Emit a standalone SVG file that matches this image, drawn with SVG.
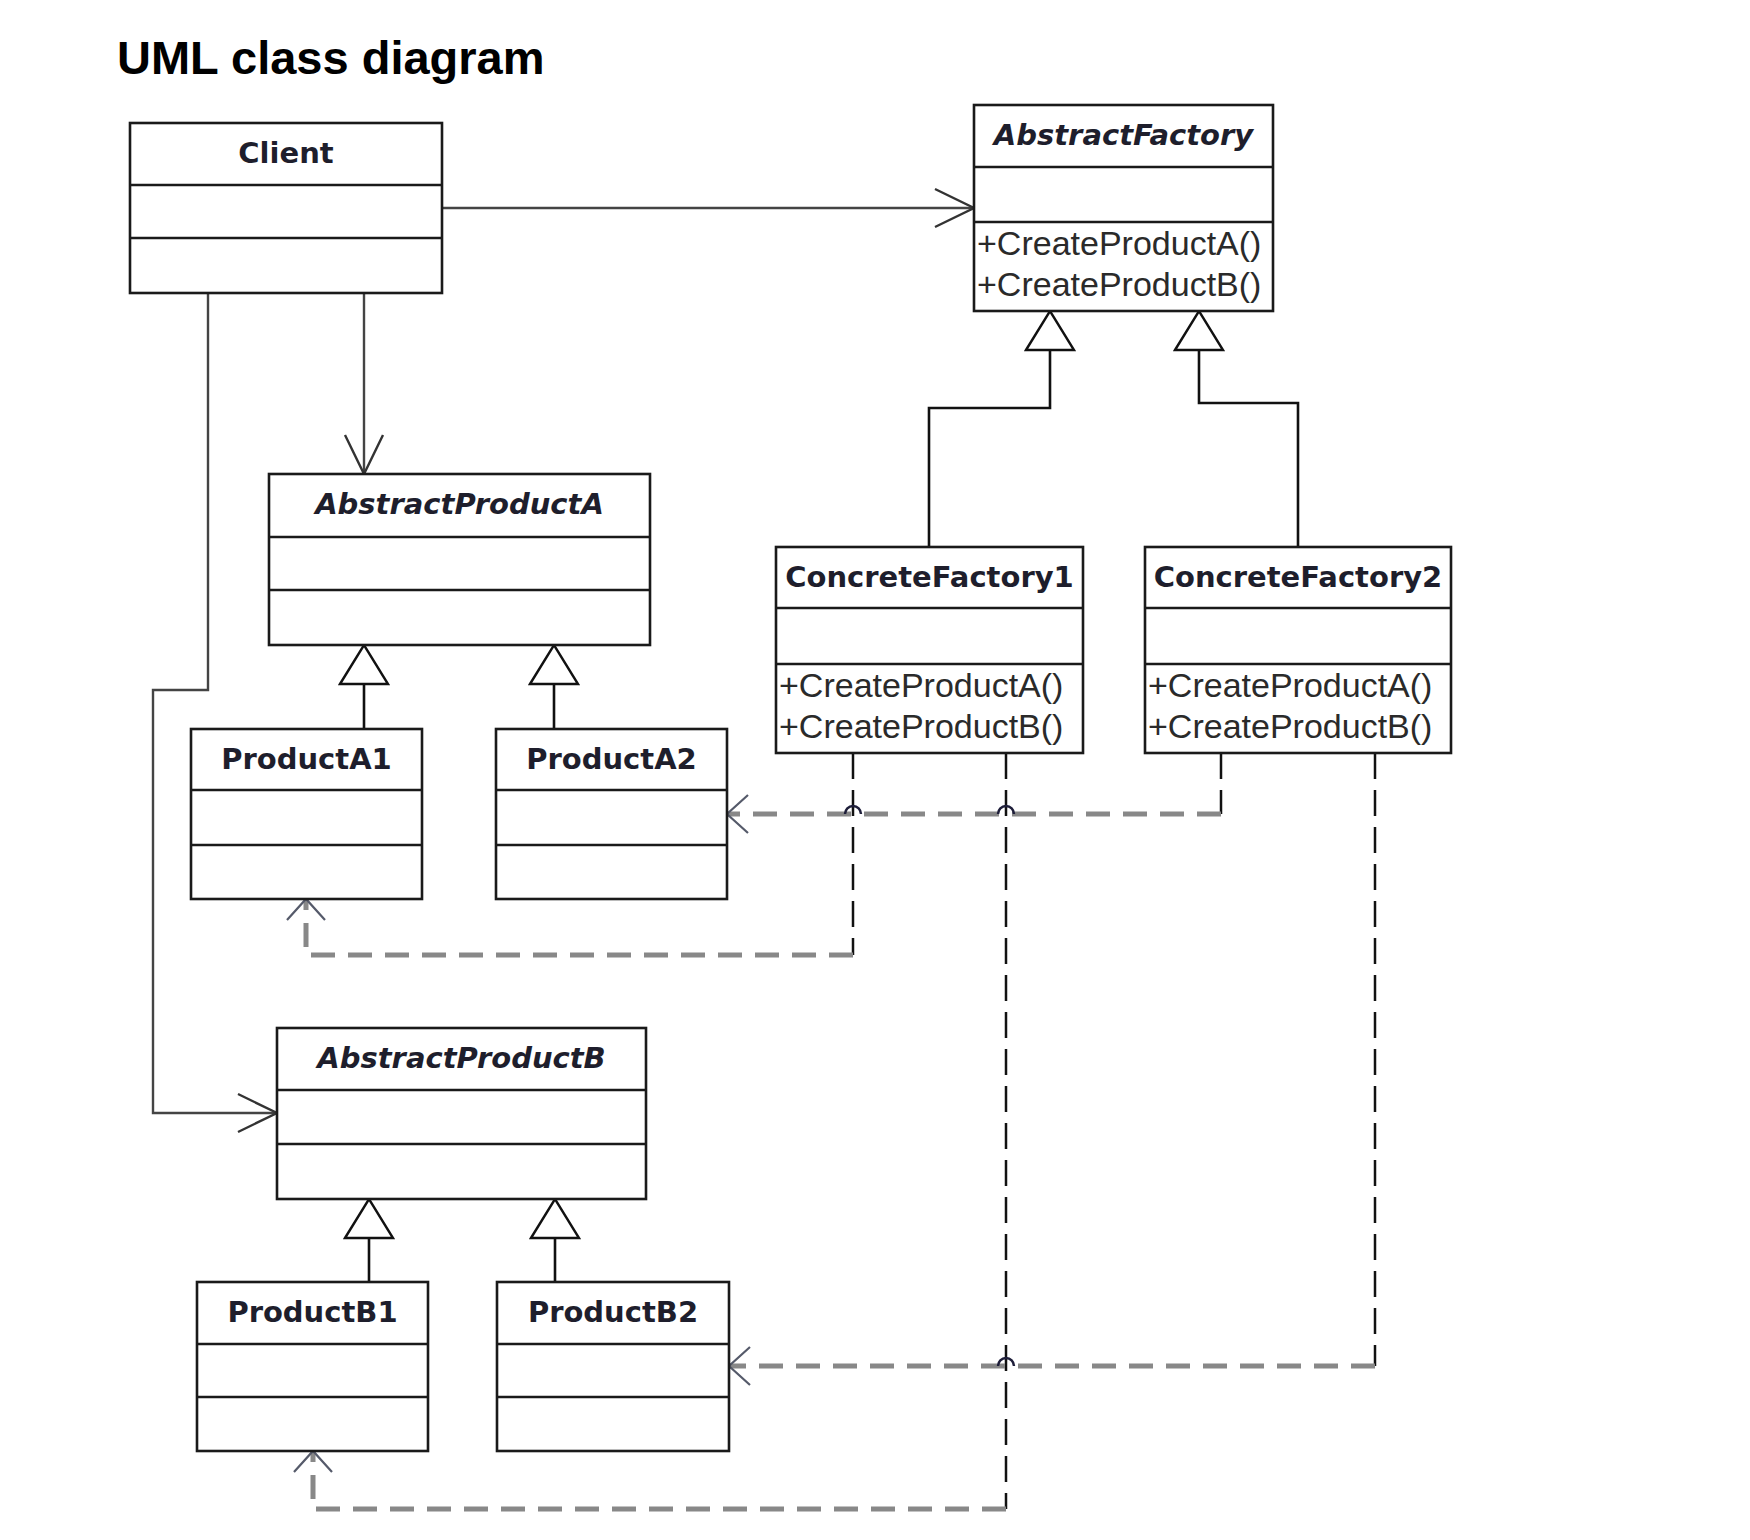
<svg xmlns="http://www.w3.org/2000/svg" width="1750" height="1540" viewBox="0 0 1750 1540">
<style>
.box{fill:#fff;stroke:#1a1a1a;stroke-width:2.6}
.div{stroke:#1a1a1a;stroke-width:2.6}
.name{font-family:"DejaVu Sans",sans-serif;font-weight:bold;font-size:29px;fill:#1e1e2c;text-anchor:middle}
.abs{font-style:italic}
.meth{font-family:"Liberation Sans",Arial,sans-serif;font-size:34px;fill:#2a2a2a}
.title{font-family:"Liberation Sans",Arial,sans-serif;font-weight:bold;font-size:47px;fill:#000}
.assoc{fill:none;stroke:#444;stroke-width:2.4}
.gen{fill:none;stroke:#111;stroke-width:2.6}
.vdash{fill:none;stroke:#111;stroke-width:2.5;stroke-dasharray:26 11}
.hdash{fill:none;stroke:#888;stroke-width:5;stroke-dasharray:24 13}
.hop{fill:none;stroke:#1e1e3a;stroke-width:2.5}
</style>
<defs>
<marker id="arrAssoc" markerUnits="userSpaceOnUse" viewBox="-2 -2 44 44" markerWidth="44" markerHeight="44" refX="39" refY="19" orient="auto">
<path d="M0,0 L39,19 L0,38" fill="none" stroke="#333" stroke-width="2.4"/>
</marker>
<marker id="arrDep" markerUnits="userSpaceOnUse" viewBox="-2 -2 26 42" markerWidth="26" markerHeight="42" refX="21" refY="19" orient="auto">
<path d="M0,0 L21,19 L0,38" fill="none" stroke="#555a6a" stroke-width="2.2"/>
</marker>
<marker id="triGen" markerUnits="userSpaceOnUse" viewBox="-2 -2 44 52" markerWidth="44" markerHeight="52" refX="39" refY="24" orient="auto">
<path d="M0,0 L39,24 L0,48 Z" fill="#fff" stroke="#111" stroke-width="2.4"/>
</marker>
</defs>
<rect width="1750" height="1540" fill="#fff"/>
<text class="title" x="117" y="74">UML class diagram</text>

<g id="connectors">
<path class="assoc" d="M442,208 H974" marker-end="url(#arrAssoc)"/>
<path class="assoc" d="M364,293 V474" marker-end="url(#arrAssoc)"/>
<path class="assoc" stroke="#4e4e66" d="M208,293 V690 H153 V1113 H277" marker-end="url(#arrAssoc)"/>
<path class="gen" d="M364,729 V645" marker-end="url(#triGen)"/>
<path class="gen" d="M554,729 V645" marker-end="url(#triGen)"/>
<path class="gen" d="M369,1282 V1199" marker-end="url(#triGen)"/>
<path class="gen" d="M555,1282 V1199" marker-end="url(#triGen)"/>
<path class="gen" d="M929,547 V408 H1050 V311" marker-end="url(#triGen)"/>
<path class="gen" d="M1298,547 V403 H1199 V311" marker-end="url(#triGen)"/>
<path class="vdash" d="M853,753 V955"/>
<path class="hdash" d="M853,955 H306 V899" marker-end="url(#arrDep)"/>
<path class="vdash" d="M1221,753 V814"/>
<path class="hdash" d="M1221,814 H727" marker-end="url(#arrDep)"/>
<path class="vdash" d="M1006,753 V1509"/>
<path class="hdash" d="M1006,1509 H313 V1451" marker-end="url(#arrDep)"/>
<path class="vdash" d="M1375,753 V1366"/>
<path class="hdash" d="M1375,1366 H729" marker-end="url(#arrDep)"/>
<path class="hop" d="M845,814 A8,8 0 0 1 861,814"/>
<path class="hop" d="M998,814 A8,8 0 0 1 1014,814"/>
<path class="hop" d="M998,1366 A8,8 0 0 1 1014,1366"/>
</g>

<g id="client">
<rect class="box" x="130" y="123" width="312" height="170"/>
<line class="div" x1="130" y1="185" x2="442" y2="185"/>
<line class="div" x1="130" y1="238" x2="442" y2="238"/>
<text class="name" x="286" y="163">Client</text>
</g>

<g id="abstractFactory">
<rect class="box" x="974" y="105" width="299" height="206"/>
<line class="div" x1="974" y1="167" x2="1273" y2="167"/>
<line class="div" x1="974" y1="222" x2="1273" y2="222"/>
<text class="name abs" x="1123.5" y="145">AbstractFactory</text>
<text class="meth" x="977" y="255">+CreateProductA()</text>
<text class="meth" x="977" y="296">+CreateProductB()</text>
</g>

<g id="concreteFactory1">
<rect class="box" x="776" y="547" width="307" height="206"/>
<line class="div" x1="776" y1="608" x2="1083" y2="608"/>
<line class="div" x1="776" y1="664" x2="1083" y2="664"/>
<text class="name" x="929.5" y="587">ConcreteFactory1</text>
<text class="meth" x="779" y="697">+CreateProductA()</text>
<text class="meth" x="779" y="738">+CreateProductB()</text>
</g>

<g id="concreteFactory2">
<rect class="box" x="1145" y="547" width="306" height="206"/>
<line class="div" x1="1145" y1="608" x2="1451" y2="608"/>
<line class="div" x1="1145" y1="664" x2="1451" y2="664"/>
<text class="name" x="1298" y="587">ConcreteFactory2</text>
<text class="meth" x="1148" y="697">+CreateProductA()</text>
<text class="meth" x="1148" y="738">+CreateProductB()</text>
</g>

<g id="abstractProductA">
<rect class="box" x="269" y="474" width="381" height="171"/>
<line class="div" x1="269" y1="537" x2="650" y2="537"/>
<line class="div" x1="269" y1="590" x2="650" y2="590"/>
<text class="name abs" x="459.5" y="514">AbstractProductA</text>
</g>

<g id="productA1">
<rect class="box" x="191" y="729" width="231" height="170"/>
<line class="div" x1="191" y1="790" x2="422" y2="790"/>
<line class="div" x1="191" y1="845" x2="422" y2="845"/>
<text class="name" x="306.5" y="769">ProductA1</text>
</g>

<g id="productA2">
<rect class="box" x="496" y="729" width="231" height="170"/>
<line class="div" x1="496" y1="790" x2="727" y2="790"/>
<line class="div" x1="496" y1="845" x2="727" y2="845"/>
<text class="name" x="611.5" y="769">ProductA2</text>
</g>

<g id="abstractProductB">
<rect class="box" x="277" y="1028" width="369" height="171"/>
<line class="div" x1="277" y1="1090" x2="646" y2="1090"/>
<line class="div" x1="277" y1="1144" x2="646" y2="1144"/>
<text class="name abs" x="461.5" y="1068">AbstractProductB</text>
</g>

<g id="productB1">
<rect class="box" x="197" y="1282" width="231" height="169"/>
<line class="div" x1="197" y1="1344" x2="428" y2="1344"/>
<line class="div" x1="197" y1="1397" x2="428" y2="1397"/>
<text class="name" x="312.5" y="1322">ProductB1</text>
</g>

<g id="productB2">
<rect class="box" x="497" y="1282" width="232" height="169"/>
<line class="div" x1="497" y1="1344" x2="729" y2="1344"/>
<line class="div" x1="497" y1="1397" x2="729" y2="1397"/>
<text class="name" x="613" y="1322">ProductB2</text>
</g>
</svg>
